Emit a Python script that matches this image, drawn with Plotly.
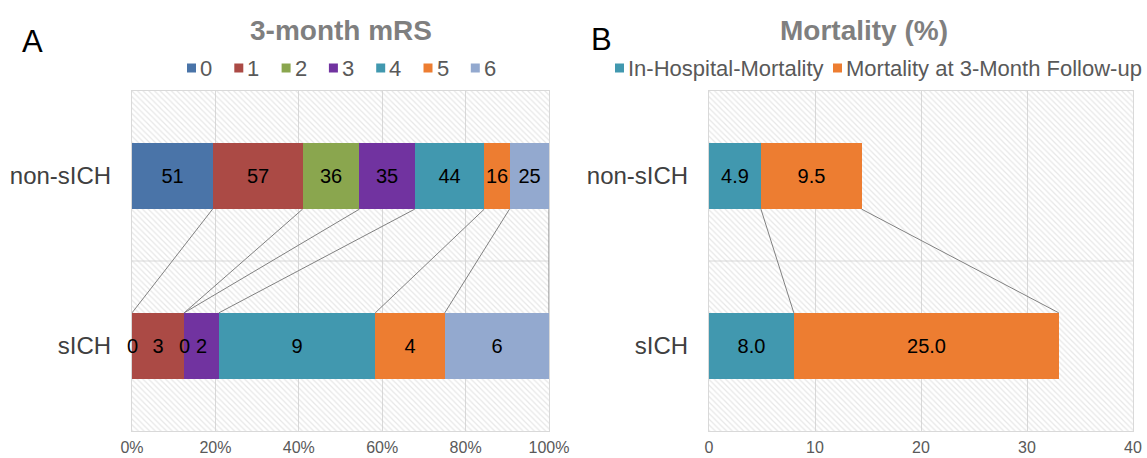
import plotly.graph_objects as go

# ---------------- data ----------------
groups = ["non-sICH", "sICH"]           # top to bottom
mrs_levels = ["0", "1", "2", "3", "4", "5", "6"]
mrs_non_sich = [51, 57, 36, 35, 44, 16, 25]
mrs_sich = [0, 3, 0, 2, 9, 4, 6]
mrs_colors = ["#4a74a8", "#ab4a45", "#8aa64e", "#7133a0", "#4198af", "#ed7d31", "#93a9cf"]

mort_series = ["In-Hospital-Mortality", "Mortality at 3-Month Follow-up"]
mort_non_sich = [4.9, 9.5]
mort_sich = [8.0, 25.0]
mort_colors = ["#4198af", "#ed7d31"]

pct_ticks = [0, 20, 40, 60, 80, 100]
mort_ticks = [0, 10, 20, 30, 40]

# ---------------- helpers ----------------
W, H = 1147, 458
YPOS = {"non-sICH": 1, "sICH": 0}
BW = 0.39
FONT = "Liberation Sans, Arial, sans-serif"


def px(x):
    return x / W


def py(y):
    return 1 - y / H


def cumulative(vals):
    out, s = [], 0
    for v in vals:
        s += v
        out.append(s)
    return out


tot_top = sum(mrs_non_sich)
tot_bot = sum(mrs_sich)
pct_top = [v / tot_top * 100 for v in mrs_non_sich]
pct_bot = [v / tot_bot * 100 for v in mrs_sich]

fig = go.Figure()

# background hatch for both panels
for xa, ya, xmax in [("x", "y", 100), ("x2", "y2", 40)]:
    fig.add_trace(go.Bar(
        x=[xmax], y=[0.5], width=[2], orientation="h", xaxis=xa, yaxis=ya,
        marker=dict(color="rgba(0,0,0,0)", line=dict(width=0),
                    pattern=dict(shape="\\", fgcolor="#cfcfcf", bgcolor="rgba(0,0,0,0)",
                                 size=4, solidity=0.3)),
        showlegend=False, hoverinfo="skip"))

LBL = dict(size=20, color="black", family=FONT)

# left panel: mRS distribution (100% stacked)
for i, lvl in enumerate(mrs_levels):
    fig.add_trace(go.Bar(
        name=lvl, orientation="h",
        x=[pct_top[i], pct_bot[i]],
        y=[YPOS["non-sICH"], YPOS["sICH"]],
        text=[mrs_non_sich[i], mrs_sich[i]],
        texttemplate="%{text}", textposition="inside", insidetextanchor="middle",
        textangle=0, textfont=LBL,
        width=BW, marker=dict(color=mrs_colors[i], line=dict(width=0)),
        xaxis="x", yaxis="y", showlegend=False, hoverinfo="skip"))

# right panel: mortality
for i, s in enumerate(mort_series):
    fig.add_trace(go.Bar(
        name=s, orientation="h",
        x=[mort_non_sich[i], mort_sich[i]],
        y=[YPOS["non-sICH"], YPOS["sICH"]],
        texttemplate="%{x:.1f}", textposition="inside", insidetextanchor="middle",
        textangle=0, textfont=LBL,
        width=BW, marker=dict(color=mort_colors[i], line=dict(width=0)),
        xaxis="x2", yaxis="y2", showlegend=False, hoverinfo="skip"))

shapes = []
annotations = []

# zero-valued segment labels (drawn at the boundary)
cb = cumulative(pct_bot)
for i, v in enumerate(mrs_sich):
    if v == 0:
        annotations.append(dict(x=cb[i], y=YPOS["sICH"], xref="x", yref="y", text=str(v),
                                showarrow=False, font=LBL))

# series connector lines
ct = cumulative(pct_top)
for a, b in zip(ct, cb):
    shapes.append(dict(type="line", xref="x", yref="y", x0=a, y0=YPOS["non-sICH"] - BW / 2,
                       x1=b, y1=YPOS["sICH"] + BW / 2, line=dict(color="#808080", width=1)))
for a, b in zip(cumulative(mort_non_sich), cumulative(mort_sich)):
    shapes.append(dict(type="line", xref="x2", yref="y2", x0=a, y0=YPOS["non-sICH"] - BW / 2,
                       x1=b, y1=YPOS["sICH"] + BW / 2, line=dict(color="#808080", width=1)))

# category divider gridlines
for xr, yr, xmax in [("x", "y", 100), ("x2", "y2", 40)]:
    shapes.append(dict(type="line", xref=xr, yref=yr, x0=0, x1=xmax, y0=0.5, y1=0.5,
                       layer="below", line=dict(color="#d9d9d9", width=1)))

# legends (drawn manually to match the compact Excel legend)
LEG_FONT = dict(size=22, color="#595959", family=FONT)
SQ = 9
LEG_Y = 68


def legend_item(x_sq, label, color):
    shapes.append(dict(type="rect", xref="paper", yref="paper",
                       x0=px(x_sq), x1=px(x_sq + SQ), y0=py(LEG_Y + SQ / 2), y1=py(LEG_Y - SQ / 2),
                       fillcolor=color, line=dict(width=0)))
    annotations.append(dict(text=label, x=px(x_sq + SQ + 2), y=py(LEG_Y), xref="paper", yref="paper",
                            xanchor="left", yanchor="middle", showarrow=False, font=LEG_FONT))


for i, (lvl, col) in enumerate(zip(mrs_levels, mrs_colors)):
    legend_item(187 + 47.3 * i, lvl, col)
legend_item(615, mort_series[0], mort_colors[0])
legend_item(833, mort_series[1], mort_colors[1])

# titles and panel letters
TITLE_FONT = dict(size=28, color="#7f7f7f", family=FONT)
annotations += [
    dict(text="<b>3-month mRS</b>", x=px(341), y=py(30), xref="paper", yref="paper",
         showarrow=False, font=TITLE_FONT, xanchor="center", yanchor="middle"),
    dict(text="<b>Mortality (%)</b>", x=px(864), y=py(30), xref="paper", yref="paper",
         showarrow=False, font=TITLE_FONT, xanchor="center", yanchor="middle"),
    dict(text="A", x=px(32), y=py(42), xref="paper", yref="paper", showarrow=False,
         font=dict(size=31, color="black", family=FONT), xanchor="center", yanchor="middle"),
    dict(text="B", x=px(601), y=py(40), xref="paper", yref="paper", showarrow=False,
         font=dict(size=31, color="black", family=FONT), xanchor="center", yanchor="middle"),
]

ydom = [py(431), py(91)]
axis_common = dict(showline=True, mirror=True, linecolor="#d9d9d9", linewidth=1,
                   zeroline=False, fixedrange=True, automargin=False)

fig.update_layout(
    width=W, height=H,
    margin=dict(l=0, r=0, t=0, b=0, autoexpand=False),
    paper_bgcolor="white", plot_bgcolor="white",
    barmode="stack", bargap=0,
    font=dict(family=FONT),
    uniformtext=dict(minsize=20, mode="show"),
    hovermode=False, showlegend=False,
    xaxis=dict(domain=[px(132), px(549)], range=[0, 100], tickvals=pct_ticks,
               ticktext=[f"{t}%" for t in pct_ticks], showgrid=True, gridcolor="#d9d9d9",
               ticks="", ticklabelstandoff=2, tickfont=dict(size=16, color="#595959"),
               anchor="y", **axis_common),
    yaxis=dict(domain=ydom, range=[-0.5, 1.5], tickvals=[YPOS[g] for g in groups], ticktext=groups,
               showgrid=False, ticks="", ticklabelstandoff=15,
               tickfont=dict(size=24, color="#404040"), anchor="x", **axis_common),
    xaxis2=dict(domain=[px(709), px(1133)], range=[0, 40], tickvals=mort_ticks,
                showgrid=True, gridcolor="#d9d9d9", ticks="", ticklabelstandoff=2,
                tickfont=dict(size=16, color="#595959"), anchor="y2", **axis_common),
    yaxis2=dict(domain=ydom, range=[-0.5, 1.5], tickvals=[YPOS[g] for g in groups], ticktext=groups,
                showgrid=False, ticks="", ticklabelstandoff=15,
                tickfont=dict(size=24, color="#404040"), anchor="x2", **axis_common),
    shapes=shapes, annotations=annotations,
)

fig.write_html("out.html", config={"displayModeBar": False},
               post_script="document.body.style.margin='0px';document.body.style.overflow='hidden';")
